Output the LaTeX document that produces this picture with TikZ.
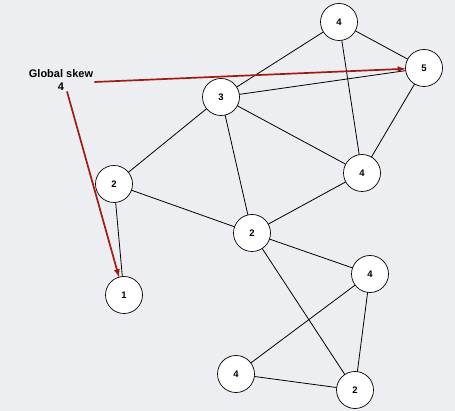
\documentclass[tikz,border=0pt]{standalone}
\usepackage{fontspec}
\setmainfont{Liberation Sans}
\usepackage{tkz-graph}
\usetikzlibrary{arrows}
\usetikzlibrary{shapes}
\definecolor{bgGray}{RGB}{237,238,242}
\definecolor{skewRed}{RGB}{160,28,16}
\begin{document}
\begin{tikzpicture}[x = 1pt, y = -1pt]
\tikzstyle{VertexStyle} = []
\tikzstyle{EdgeStyle} = []
\tikzstyle{skewStyle}=[shape = circle, minimum size = 37pt, inner sep = 1pt, draw, fill = white, line width = 0.7pt, font = \fontsize{9.5}{10}\selectfont\bfseries]
\tikzstyle{skewArrow}=[-latex, draw = skewRed, line width = 1.7pt]
\fill[bgGray] (0,0) rectangle (455,411);
\useasboundingbox (0,0) rectangle (455,411);
\Vertex[style = skewStyle, x = 339, y = 22, L = {4}]{v0}
\Vertex[style = skewStyle, x = 424, y = 68, L = {5}]{v1}
\Vertex[style = skewStyle, x = 221, y = 97, L = {3}]{v2}
\Vertex[style = skewStyle, x = 362, y = 173, L = {4}]{v3}
\Vertex[style = skewStyle, x = 114, y = 184, L = {2}]{v4}
\Vertex[style = skewStyle, x = 252, y = 233, L = {2}]{v5}
\Vertex[style = skewStyle, x = 370, y = 274, L = {4}]{v6}
\Vertex[style = skewStyle, x = 124, y = 295, L = {1}]{v7}
\Vertex[style = skewStyle, x = 236, y = 374, L = {4}]{v8}
\Vertex[style = skewStyle, x = 355, y = 390, L = {2}]{v9}
\Edge(v0)(v1)
\Edge(v0)(v2)
\Edge(v0)(v3)
\Edge(v1)(v2)
\Edge(v1)(v3)
\Edge(v2)(v3)
\Edge(v2)(v4)
\Edge(v2)(v5)
\Edge(v3)(v5)
\Edge(v4)(v5)
\Edge(v4)(v7)
\Edge(v5)(v6)
\Edge(v5)(v9)
\Edge(v6)(v8)
\Edge(v6)(v9)
\Edge(v8)(v9)
\node[align = center, inner sep = 1pt, font = \fontsize{11}{12.5}\selectfont\bfseries] (skew) at (61, 80) {Global skew\\4};
\draw[skewArrow] ([yshift = -2pt]skew.east) -- (v1);
\draw[skewArrow] ([xshift = 6pt]skew.south) -- (v7);
\end{tikzpicture}
\end{document}
